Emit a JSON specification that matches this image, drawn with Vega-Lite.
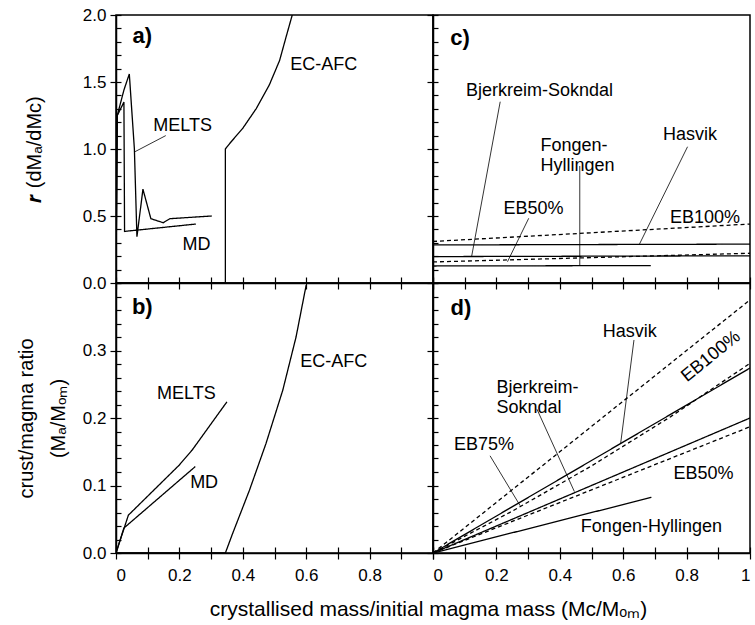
{
  "$schema": "https://vega.github.io/schema/vega-lite/v6.json",
  "padding": {"left": 15, "top": 5, "right": 2, "bottom": 5},
  "background": "white",
  "columns": 2,
  "spacing": 0,
  "bounds": "flush",
  "config": {
    "view": {"stroke": "black", "strokeWidth": 1.5},
    "axis": {"grid": false, "domainColor": "black", "domainWidth": 1.5, "tickColor": "black", "tickWidth": 1.2, "labelFont": "Liberation Sans", "labelFontSize": 17, "labelColor": "black", "titleFont": "Liberation Sans", "titleFontSize": 20, "titleFontWeight": "normal", "titleColor": "black", "labelOverlap": false}
  },
  "datasets": {
    "lines": [
      {"p": "a", "s": "MELTS", "t": "obs", "i": 0, "x": 0, "y": 0},
      {"p": "a", "s": "MELTS", "t": "obs", "i": 1, "x": 0.004, "y": 1.25},
      {"p": "a", "s": "MELTS", "t": "obs", "i": 2, "x": 0.025, "y": 1.44},
      {"p": "a", "s": "MELTS", "t": "obs", "i": 3, "x": 0.042, "y": 1.56},
      {"p": "a", "s": "MELTS", "t": "obs", "i": 4, "x": 0.058, "y": 1.0},
      {"p": "a", "s": "MELTS", "t": "obs", "i": 5, "x": 0.066, "y": 0.345},
      {"p": "a", "s": "MELTS", "t": "obs", "i": 6, "x": 0.085, "y": 0.70},
      {"p": "a", "s": "MELTS", "t": "obs", "i": 7, "x": 0.11, "y": 0.48},
      {"p": "a", "s": "MELTS", "t": "obs", "i": 8, "x": 0.149, "y": 0.45},
      {"p": "a", "s": "MELTS", "t": "obs", "i": 9, "x": 0.17, "y": 0.48},
      {"p": "a", "s": "MELTS", "t": "obs", "i": 10, "x": 0.302, "y": 0.50},
      {"p": "a", "s": "MD", "t": "obs", "i": 0, "x": 0, "y": 0},
      {"p": "a", "s": "MD", "t": "obs", "i": 1, "x": 0.004, "y": 1.25},
      {"p": "a", "s": "MD", "t": "obs", "i": 2, "x": 0.025, "y": 1.35},
      {"p": "a", "s": "MD", "t": "obs", "i": 3, "x": 0.027, "y": 0.385},
      {"p": "a", "s": "MD", "t": "obs", "i": 4, "x": 0.252, "y": 0.44},
      {"p": "a", "s": "EC-AFC", "t": "obs", "i": 0, "x": 0, "y": 0},
      {"p": "a", "s": "EC-AFC", "t": "obs", "i": 1, "x": 0.345, "y": 0},
      {"p": "a", "s": "EC-AFC", "t": "obs", "i": 2, "x": 0.345, "y": 1.0},
      {"p": "a", "s": "EC-AFC", "t": "obs", "i": 3, "x": 0.36, "y": 1.045},
      {"p": "a", "s": "EC-AFC", "t": "obs", "i": 4, "x": 0.40, "y": 1.155},
      {"p": "a", "s": "EC-AFC", "t": "obs", "i": 5, "x": 0.442, "y": 1.30},
      {"p": "a", "s": "EC-AFC", "t": "obs", "i": 6, "x": 0.484, "y": 1.48},
      {"p": "a", "s": "EC-AFC", "t": "obs", "i": 7, "x": 0.516, "y": 1.66},
      {"p": "a", "s": "EC-AFC", "t": "obs", "i": 8, "x": 0.537, "y": 1.84},
      {"p": "a", "s": "EC-AFC", "t": "obs", "i": 9, "x": 0.556, "y": 2.0},
      {"p": "b", "s": "MELTS", "t": "obs", "i": 0, "x": 0, "y": 0},
      {"p": "b", "s": "MELTS", "t": "obs", "i": 1, "x": 0.039, "y": 0.056},
      {"p": "b", "s": "MELTS", "t": "obs", "i": 2, "x": 0.199, "y": 0.130},
      {"p": "b", "s": "MELTS", "t": "obs", "i": 3, "x": 0.241, "y": 0.153},
      {"p": "b", "s": "MELTS", "t": "obs", "i": 4, "x": 0.350, "y": 0.224},
      {"p": "b", "s": "MD", "t": "obs", "i": 0, "x": 0, "y": 0},
      {"p": "b", "s": "MD", "t": "obs", "i": 1, "x": 0.025, "y": 0.037},
      {"p": "b", "s": "MD", "t": "obs", "i": 2, "x": 0.250, "y": 0.128},
      {"p": "b", "s": "EC-AFC", "t": "obs", "i": 0, "x": 0, "y": 0},
      {"p": "b", "s": "EC-AFC", "t": "obs", "i": 1, "x": 0.345, "y": 0},
      {"p": "b", "s": "EC-AFC", "t": "obs", "i": 2, "x": 0.368, "y": 0.029},
      {"p": "b", "s": "EC-AFC", "t": "obs", "i": 3, "x": 0.421, "y": 0.093},
      {"p": "b", "s": "EC-AFC", "t": "obs", "i": 4, "x": 0.473, "y": 0.162},
      {"p": "b", "s": "EC-AFC", "t": "obs", "i": 5, "x": 0.526, "y": 0.241},
      {"p": "b", "s": "EC-AFC", "t": "obs", "i": 6, "x": 0.568, "y": 0.320},
      {"p": "b", "s": "EC-AFC", "t": "obs", "i": 7, "x": 0.600, "y": 0.397},
      {"p": "c", "s": "EB100%", "t": "EB", "i": 0, "x": 0, "y": 0.31},
      {"p": "c", "s": "EB100%", "t": "EB", "i": 1, "x": 1, "y": 0.44},
      {"p": "c", "s": "Hasvik", "t": "obs", "i": 0, "x": 0, "y": 0.284},
      {"p": "c", "s": "Hasvik", "t": "obs", "i": 1, "x": 1, "y": 0.29},
      {"p": "c", "s": "Bjerkreim-Sokndal", "t": "obs", "i": 0, "x": 0, "y": 0.197},
      {"p": "c", "s": "Bjerkreim-Sokndal", "t": "obs", "i": 1, "x": 1, "y": 0.203},
      {"p": "c", "s": "EB50%", "t": "EB", "i": 0, "x": 0, "y": 0.157},
      {"p": "c", "s": "EB50%", "t": "EB", "i": 1, "x": 1, "y": 0.222},
      {"p": "c", "s": "Fongen-Hyllingen", "t": "obs", "i": 0, "x": 0, "y": 0.127},
      {"p": "c", "s": "Fongen-Hyllingen", "t": "obs", "i": 1, "x": 0.687, "y": 0.13},
      {"p": "d", "s": "EB100%", "t": "EB", "i": 0, "x": 0, "y": 0},
      {"p": "d", "s": "EB100%", "t": "EB", "i": 1, "x": 1, "y": 0.375},
      {"p": "d", "s": "Hasvik", "t": "obs", "i": 0, "x": 0, "y": 0},
      {"p": "d", "s": "Hasvik", "t": "obs", "i": 1, "x": 1, "y": 0.274},
      {"p": "d", "s": "EB75%", "t": "EB", "i": 0, "x": 0, "y": 0},
      {"p": "d", "s": "EB75%", "t": "EB", "i": 1, "x": 0.25, "y": 0.062},
      {"p": "d", "s": "EB75%", "t": "EB", "i": 2, "x": 0.5, "y": 0.129},
      {"p": "d", "s": "EB75%", "t": "EB", "i": 3, "x": 0.75, "y": 0.202},
      {"p": "d", "s": "EB75%", "t": "EB", "i": 4, "x": 1, "y": 0.281},
      {"p": "d", "s": "Bjerkreim-Sokndal", "t": "obs", "i": 0, "x": 0, "y": 0},
      {"p": "d", "s": "Bjerkreim-Sokndal", "t": "obs", "i": 1, "x": 1, "y": 0.2},
      {"p": "d", "s": "EB50%", "t": "EB", "i": 0, "x": 0, "y": 0},
      {"p": "d", "s": "EB50%", "t": "EB", "i": 1, "x": 1, "y": 0.187},
      {"p": "d", "s": "Fongen-Hyllingen", "t": "obs", "i": 0, "x": 0, "y": 0},
      {"p": "d", "s": "Fongen-Hyllingen", "t": "obs", "i": 1, "x": 0.689, "y": 0.0825}
    ],
    "pointers": [
      {"p": "a", "x": 0.06, "y": 0.98, "x2": 0.157, "y2": 1.10},
      {"p": "c", "x": 0.212, "y": 1.353, "x2": 0.122, "y2": 0.2},
      {"p": "c", "x": 0.302, "y": 0.483, "x2": 0.235, "y2": 0.159},
      {"p": "c", "x": 0.463, "y": 0.873, "x2": 0.463, "y2": 0.127},
      {"p": "c", "x": 0.803, "y": 1.017, "x2": 0.65, "y2": 0.284},
      {"p": "d", "x": 0.634, "y": 0.3156, "x2": 0.592, "y2": 0.1625},
      {"p": "d", "x": 0.328, "y": 0.213, "x2": 0.446, "y2": 0.091},
      {"p": "d", "x": 0.180, "y": 0.144, "x2": 0.275, "y2": 0.070}
    ],
    "labels": [
      {"p": "a", "x": 0.21, "y": 1.17, "label": "MELTS"},
      {"p": "a", "x": 0.254, "y": 0.28, "label": "MD"},
      {"p": "a", "x": 0.655, "y": 1.63, "label": "EC-AFC"},
      {"p": "b", "x": 0.222, "y": 0.236, "label": "MELTS"},
      {"p": "b", "x": 0.278, "y": 0.104, "label": "MD"},
      {"p": "b", "x": 0.687, "y": 0.283, "label": "EC-AFC"},
      {"p": "c", "x": 0.336, "y": 1.435, "label": "Bjerkreim-Sokndal"},
      {"p": "c", "x": 0.339, "y": 1.02, "label": "Fongen-\nHyllingen"},
      {"p": "c", "x": 0.811, "y": 1.104, "label": "Hasvik"},
      {"p": "c", "x": 0.317, "y": 0.55, "label": "EB50%"},
      {"p": "c", "x": 0.858, "y": 0.483, "label": "EB100%"},
      {"p": "d", "x": 0.621, "y": 0.328, "label": "Hasvik"},
      {"p": "d", "x": 0.2, "y": 0.244, "label": "Bjerkreim-\nSokndal"},
      {"p": "d", "x": 0.161, "y": 0.160, "label": "EB75%"},
      {"p": "d", "x": 0.853, "y": 0.117, "label": "EB50%"},
      {"p": "d", "x": 0.689, "y": 0.038, "label": "Fongen-Hyllingen"},
      {"p": "d", "x": 0.877, "y": 0.291, "label": "EB100%"}
    ],
    "letters": [
      {"p": "a", "x": 0.083, "y": 1.845, "label": "a)"},
      {"p": "b", "x": 0.083, "y": 0.364, "label": "b)"},
      {"p": "c", "x": 0.085, "y": 1.83, "label": "c)"},
      {"p": "d", "x": 0.088, "y": 0.3625, "label": "d)"}
    ]
  },
  "concat": [
    {
      "width": 317, "height": 268,
      "layer": [
        {
          "data": {"name": "lines"},
          "transform": [{"filter": "datum.p === 'a'"}],
          "mark": {"type": "line", "color": "black", "strokeWidth": 1.3, "clip": true},
          "encoding": {
            "x": {"field": "x", "type": "quantitative", "scale": {"domain": [0, 1], "nice": false}, "axis": {"orient": "bottom", "values": [0, 0.1, 0.2, 0.3, 0.4, 0.5, 0.6, 0.7, 0.8, 0.9, 1], "labels": false, "tickSize": 6, "title": null}},
            "y": {"field": "y", "type": "quantitative", "scale": {"domain": [0, 2], "nice": false}, "axis": {"orient": "left", "values": [0, 0.5, 1, 1.5, 2], "format": ".1f", "tickSize": 6, "labelPadding": 4, "title": "𝒓 (dMₐ/dMc)", "titlePadding": 38}},
            "detail": {"field": "s"},
            "order": {"field": "i", "type": "quantitative"},
            "strokeDash": {"field": "t", "type": "nominal", "scale": {"domain": ["obs", "EB"], "range": [[1, 0], [4, 3]]}, "legend": null}
          }
        },
        {
          "data": {"name": "pointers"},
          "transform": [{"filter": "datum.p === 'a'"}],
          "mark": {"type": "rule", "color": "black", "strokeWidth": 0.8},
          "encoding": {
            "x": {"field": "x", "type": "quantitative", "axis": null},
            "y": {"field": "y", "type": "quantitative", "axis": null},
            "x2": {"field": "x2"},
            "y2": {"field": "y2"}
          }
        },
        {
          "data": {"name": "labels"},
          "transform": [{"filter": "datum.p === 'a'"}],
          "mark": {"type": "text", "font": "Liberation Sans", "fontSize": 18, "align": "center", "baseline": "middle", "color": "black"},
          "encoding": {
            "x": {"field": "x", "type": "quantitative", "axis": null},
            "y": {"field": "y", "type": "quantitative", "axis": null},
            "text": {"field": "label"}
          }
        },
        {
          "data": {"name": "letters"},
          "transform": [{"filter": "datum.p === 'a'"}],
          "mark": {"type": "text", "font": "Liberation Sans", "fontSize": 22, "fontWeight": "bold", "align": "center", "baseline": "middle", "color": "black"},
          "encoding": {
            "x": {"field": "x", "type": "quantitative", "axis": {"orient": "bottom", "values": [0, 0.1, 0.2, 0.3, 0.4, 0.5, 0.6, 0.7, 0.8, 0.9, 1], "labels": false, "domain": false, "tickSize": -6, "title": null}},
            "y": {"field": "y", "type": "quantitative", "axis": {"orient": "left", "values": [0, 0.1, 0.2, 0.3, 0.4, 0.5, 0.6, 0.7, 0.8, 0.9, 1, 1.1, 1.2, 1.3, 1.4, 1.5, 1.6, 1.7, 1.8, 1.9, 2], "labels": false, "domain": false, "tickSize": -5, "title": null}},
            "text": {"field": "label"}
          }
        }
      ],
      "resolve": {"axis": {"x": "independent", "y": "independent"}}
    },
    {
      "width": 317, "height": 268,
      "layer": [
        {
          "data": {"name": "lines"},
          "transform": [{"filter": "datum.p === 'c'"}],
          "mark": {"type": "line", "color": "black", "strokeWidth": 1.3, "clip": true},
          "encoding": {
            "x": {"field": "x", "type": "quantitative", "scale": {"domain": [0, 1], "nice": false}, "axis": {"orient": "bottom", "values": [0, 0.1, 0.2, 0.3, 0.4, 0.5, 0.6, 0.7, 0.8, 0.9, 1], "labels": false, "tickSize": 6, "title": null}},
            "y": {"field": "y", "type": "quantitative", "scale": {"domain": [0, 2], "nice": false}, "axis": {"orient": "left", "values": [0, 0.5, 1, 1.5, 2], "labels": false, "tickSize": 6, "title": null}},
            "detail": {"field": "s"},
            "order": {"field": "i", "type": "quantitative"},
            "strokeDash": {"field": "t", "type": "nominal", "scale": {"domain": ["obs", "EB"], "range": [[1, 0], [4, 3]]}, "legend": null}
          }
        },
        {
          "data": {"name": "pointers"},
          "transform": [{"filter": "datum.p === 'c'"}],
          "mark": {"type": "rule", "color": "black", "strokeWidth": 0.8},
          "encoding": {
            "x": {"field": "x", "type": "quantitative", "axis": null},
            "y": {"field": "y", "type": "quantitative", "axis": null},
            "x2": {"field": "x2"},
            "y2": {"field": "y2"}
          }
        },
        {
          "data": {"name": "labels"},
          "transform": [{"filter": "datum.p === 'c' && indexof(datum.label, '\\n') < 0"}],
          "mark": {"type": "text", "font": "Liberation Sans", "fontSize": 18, "align": "center", "baseline": "middle", "color": "black"},
          "encoding": {
            "x": {"field": "x", "type": "quantitative", "axis": null},
            "y": {"field": "y", "type": "quantitative", "axis": null},
            "text": {"field": "label"}
          }
        },
        {
          "data": {"name": "labels"},
          "transform": [{"filter": "datum.p === 'c' && indexof(datum.label, '\\n') >= 0"}],
          "mark": {"type": "text", "font": "Liberation Sans", "fontSize": 18, "align": "left", "baseline": "middle", "lineBreak": "\n", "lineHeight": 20, "color": "black"},
          "encoding": {
            "x": {"field": "x", "type": "quantitative", "axis": null},
            "y": {"field": "y", "type": "quantitative", "axis": null},
            "text": {"field": "label"}
          }
        },
        {
          "data": {"name": "letters"},
          "transform": [{"filter": "datum.p === 'c'"}],
          "mark": {"type": "text", "font": "Liberation Sans", "fontSize": 22, "fontWeight": "bold", "align": "center", "baseline": "middle", "color": "black"},
          "encoding": {
            "x": {"field": "x", "type": "quantitative", "axis": {"orient": "bottom", "values": [0, 0.1, 0.2, 0.3, 0.4, 0.5, 0.6, 0.7, 0.8, 0.9, 1], "labels": false, "domain": false, "tickSize": -6, "title": null}},
            "y": {"field": "y", "type": "quantitative", "axis": {"orient": "left", "values": [0, 0.1, 0.2, 0.3, 0.4, 0.5, 0.6, 0.7, 0.8, 0.9, 1, 1.1, 1.2, 1.3, 1.4, 1.5, 1.6, 1.7, 1.8, 1.9, 2], "labels": false, "domain": false, "tickSize": -5, "title": null}},
            "text": {"field": "label"}
          }
        }
      ],
      "resolve": {"axis": {"x": "independent", "y": "independent"}}
    },
    {
      "width": 317, "height": 270,
      "layer": [
        {
          "data": {"name": "lines"},
          "transform": [{"filter": "datum.p === 'b'"}],
          "mark": {"type": "line", "color": "black", "strokeWidth": 1.3, "clip": true},
          "encoding": {
            "x": {"field": "x", "type": "quantitative", "scale": {"domain": [0, 1], "nice": false}, "axis": {"orient": "bottom", "values": [0, 0.1, 0.2, 0.3, 0.4, 0.5, 0.6, 0.7, 0.8, 0.9, 1], "format": "~g", "labelExpr": "indexof(['0','0.2','0.4','0.6','0.8'], datum.label) >= 0 ? datum.label : ''", "tickSize": 6, "labelPadding": 8, "title": "crystallised mass/initial magma mass (Mc/Mₒₘ)", "titleFontSize": 21, "titleX": 312, "titleY": 62, "titleAlign": "center", "titleBaseline": "alphabetic"}},
            "y": {"field": "y", "type": "quantitative", "scale": {"domain": [0, 0.4], "nice": false}, "axis": {"orient": "left", "values": [0, 0.1, 0.2, 0.3], "format": ".1f", "tickSize": 6, "labelPadding": 4, "title": ["crust/magma ratio", "(Mₐ/Mₒₘ)"], "titleLineHeight": 32, "titlePadding": 14}},
            "detail": {"field": "s"},
            "order": {"field": "i", "type": "quantitative"},
            "strokeDash": {"field": "t", "type": "nominal", "scale": {"domain": ["obs", "EB"], "range": [[1, 0], [4, 3]]}, "legend": null}
          }
        },
        {
          "data": {"name": "labels"},
          "transform": [{"filter": "datum.p === 'b'"}],
          "mark": {"type": "text", "font": "Liberation Sans", "fontSize": 18, "align": "center", "baseline": "middle", "color": "black"},
          "encoding": {
            "x": {"field": "x", "type": "quantitative", "axis": null},
            "y": {"field": "y", "type": "quantitative", "axis": null},
            "text": {"field": "label"}
          }
        },
        {
          "data": {"name": "letters"},
          "transform": [{"filter": "datum.p === 'b'"}],
          "mark": {"type": "text", "font": "Liberation Sans", "fontSize": 22, "fontWeight": "bold", "align": "center", "baseline": "middle", "color": "black"},
          "encoding": {
            "x": {"field": "x", "type": "quantitative", "axis": {"orient": "bottom", "values": [0, 0.1, 0.2, 0.3, 0.4, 0.5, 0.6, 0.7, 0.8, 0.9, 1], "labels": false, "domain": false, "tickSize": -6, "title": null}},
            "y": {"field": "y", "type": "quantitative", "axis": {"orient": "left", "values": [0, 0.02, 0.04, 0.06, 0.08, 0.1, 0.12, 0.14, 0.16, 0.18, 0.2, 0.22, 0.24, 0.26, 0.28, 0.3, 0.32, 0.34, 0.36, 0.38, 0.4], "labels": false, "domain": false, "tickSize": -5, "title": null}},
            "text": {"field": "label"}
          }
        }
      ],
      "resolve": {"axis": {"x": "independent", "y": "independent"}}
    },
    {
      "width": 317, "height": 270,
      "layer": [
        {
          "data": {"name": "lines"},
          "transform": [{"filter": "datum.p === 'd'"}],
          "mark": {"type": "line", "color": "black", "strokeWidth": 1.3, "clip": true},
          "encoding": {
            "x": {"field": "x", "type": "quantitative", "scale": {"domain": [0, 1], "nice": false}, "axis": {"orient": "bottom", "values": [0, 0.1, 0.2, 0.3, 0.4, 0.5, 0.6, 0.7, 0.8, 0.9, 1], "format": "~g", "labelExpr": "indexof(['0','0.2','0.4','0.6','0.8','1'], datum.label) >= 0 ? datum.label : ''", "tickSize": 6, "labelPadding": 8, "title": null}},
            "y": {"field": "y", "type": "quantitative", "scale": {"domain": [0, 0.4], "nice": false}, "axis": {"orient": "left", "values": [0, 0.1, 0.2, 0.3], "labels": false, "tickSize": 6, "title": null}},
            "detail": {"field": "s"},
            "order": {"field": "i", "type": "quantitative"},
            "strokeDash": {"field": "t", "type": "nominal", "scale": {"domain": ["obs", "EB"], "range": [[1, 0], [4, 3]]}, "legend": null}
          }
        },
        {
          "data": {"name": "pointers"},
          "transform": [{"filter": "datum.p === 'd'"}],
          "mark": {"type": "rule", "color": "black", "strokeWidth": 0.8},
          "encoding": {
            "x": {"field": "x", "type": "quantitative", "axis": null},
            "y": {"field": "y", "type": "quantitative", "axis": null},
            "x2": {"field": "x2"},
            "y2": {"field": "y2"}
          }
        },
        {
          "data": {"name": "labels"},
          "transform": [{"filter": "datum.p === 'd' && indexof(datum.label, '\\n') < 0 && datum.label !== 'EB100%'"}],
          "mark": {"type": "text", "font": "Liberation Sans", "fontSize": 18, "align": "center", "baseline": "middle", "color": "black"},
          "encoding": {
            "x": {"field": "x", "type": "quantitative", "axis": null},
            "y": {"field": "y", "type": "quantitative", "axis": null},
            "text": {"field": "label"}
          }
        },
        {
          "data": {"name": "labels"},
          "transform": [{"filter": "datum.p === 'd' && indexof(datum.label, '\\n') >= 0"}],
          "mark": {"type": "text", "font": "Liberation Sans", "fontSize": 18, "align": "left", "baseline": "middle", "lineBreak": "\n", "lineHeight": 20, "color": "black"},
          "encoding": {
            "x": {"field": "x", "type": "quantitative", "axis": null},
            "y": {"field": "y", "type": "quantitative", "axis": null},
            "text": {"field": "label"}
          }
        },
        {
          "data": {"name": "labels"},
          "transform": [{"filter": "datum.p === 'd' && datum.label === 'EB100%'"}],
          "mark": {"type": "text", "font": "Liberation Sans", "fontSize": 18, "align": "center", "baseline": "middle", "angle": 321, "color": "black"},
          "encoding": {
            "x": {"field": "x", "type": "quantitative", "axis": null},
            "y": {"field": "y", "type": "quantitative", "axis": null},
            "text": {"field": "label"}
          }
        },
        {
          "data": {"name": "letters"},
          "transform": [{"filter": "datum.p === 'd'"}],
          "mark": {"type": "text", "font": "Liberation Sans", "fontSize": 22, "fontWeight": "bold", "align": "center", "baseline": "middle", "color": "black"},
          "encoding": {
            "x": {"field": "x", "type": "quantitative", "axis": {"orient": "bottom", "values": [0, 0.1, 0.2, 0.3, 0.4, 0.5, 0.6, 0.7, 0.8, 0.9, 1], "labels": false, "domain": false, "tickSize": -6, "title": null}},
            "y": {"field": "y", "type": "quantitative", "axis": {"orient": "left", "values": [0, 0.02, 0.04, 0.06, 0.08, 0.1, 0.12, 0.14, 0.16, 0.18, 0.2, 0.22, 0.24, 0.26, 0.28, 0.3, 0.32, 0.34, 0.36, 0.38, 0.4], "labels": false, "domain": false, "tickSize": -5, "title": null}},
            "text": {"field": "label"}
          }
        }
      ],
      "resolve": {"axis": {"x": "independent", "y": "independent"}}
    }
  ]
}
